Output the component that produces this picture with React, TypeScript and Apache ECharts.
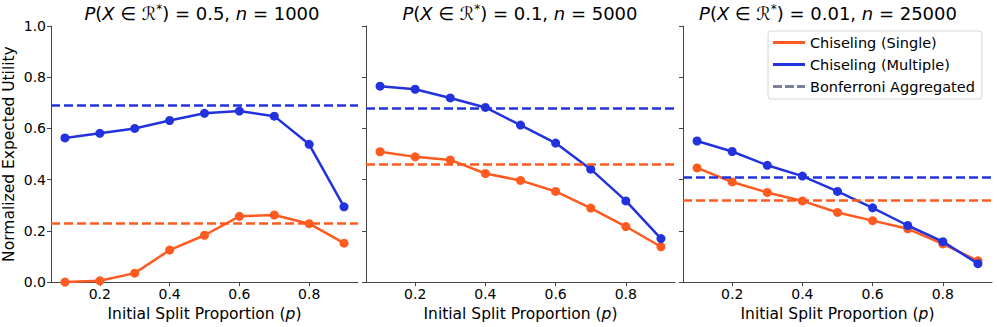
import React, { useEffect, useRef } from "react";
import * as echarts from "echarts";

const pValues = [0.1, 0.2, 0.3, 0.4, 0.5, 0.6, 0.7, 0.8, 0.9];
const xTicks = [0.2, 0.4, 0.6, 0.8];

const single1 = [0.0, 0.005, 0.035, 0.125, 0.183, 0.257, 0.262, 0.228, 0.152];
const multi1 = [0.563, 0.581, 0.6, 0.631, 0.659, 0.668, 0.648, 0.538, 0.294];
const single2 = [0.509, 0.489, 0.477, 0.424, 0.397, 0.354, 0.289, 0.217, 0.138];
const multi2 = [0.765, 0.753, 0.719, 0.682, 0.613, 0.543, 0.441, 0.317, 0.17];
const single3 = [0.446, 0.391, 0.35, 0.317, 0.272, 0.24, 0.208, 0.149, 0.083];
const multi3 = [0.551, 0.51, 0.456, 0.414, 0.354, 0.29, 0.221, 0.158, 0.072];

const bonfSingle = [0.228, 0.457, 0.322];
const bonfMulti = [0.693, 0.68, 0.409];

const probs = ["0.5", "0.1", "0.01"];
const sizes = ["1000", "5000", "25000"];

const seriesNames = ["Chiseling (Single)", "Chiseling (Multiple)", "Bonferroni Aggregated"];

const ORANGE = "#ff5a1f";
const BLUE = "#2233dd";
const GREY = "#7d829a";
const FONT = "DejaVu Sans";

const singles = [single1, single2, single3];
const multis = [multi1, multi2, multi3];

const grids = [
  { left: 49, width: 309, titleCenter: 202 },
  { left: 366, width: 309, titleCenter: 520 },
  { left: 683, width: 309, titleCenter: 828 },
];

export default function App() {
  const ref = useRef<HTMLDivElement>(null);
  useEffect(() => {
    if (!ref.current) return;
    const chart = echarts.init(ref.current, null, { renderer: "svg" });

    const titles = grids.map((g, i) => ({
      text:
        "{i|P}{n|(}{i|X}{n| ∈ ℛ}{s|*}{n|) = " + probs[i] + ", }{i|n}{n| = " + sizes[i] + "}",
      left: g.titleCenter,
      top: 3,
      padding: 0,
      textAlign: "center",
      textStyle: {
        fontFamily: FONT,
        fontSize: 18,
        color: "#000",
        fontWeight: "normal",
        rich: {
          i: { fontFamily: FONT, fontSize: 18, fontStyle: "italic", color: "#000" },
          n: { fontFamily: FONT, fontSize: 18, color: "#000" },
          s: { fontFamily: FONT, fontSize: 12, color: "#000", verticalAlign: "top", padding: [0, 0, 8, 0] },
        },
      },
    }));

    const series: any[] = [];
    for (let i = 0; i < 3; i++) {
      series.push({
        name: seriesNames[0],
        type: "line",
        xAxisIndex: i,
        yAxisIndex: i,
        data: pValues.map((p, k) => [p, singles[i][k]]),
        symbol: "circle",
        symbolSize: 9,
        color: ORANGE,
        lineStyle: { width: 2.5, color: ORANGE },
        itemStyle: { color: ORANGE },
        z: 3,
        markLine: {
          silent: true,
          symbol: ["none", "none"],
          label: { show: false },
          lineStyle: { type: [9, 4], width: 2.5, color: ORANGE },
          data: [{ yAxis: bonfSingle[i] }],
        },
      });
      series.push({
        name: seriesNames[1],
        type: "line",
        xAxisIndex: i,
        yAxisIndex: i,
        data: pValues.map((p, k) => [p, multis[i][k]]),
        symbol: "circle",
        symbolSize: 9,
        color: BLUE,
        lineStyle: { width: 2.5, color: BLUE },
        itemStyle: { color: BLUE },
        z: 4,
        markLine: {
          silent: true,
          symbol: ["none", "none"],
          label: { show: false },
          lineStyle: { type: [9, 4], width: 2.5, color: BLUE },
          data: [{ yAxis: bonfMulti[i] }],
        },
      });
    }
    series.push({
      name: seriesNames[2],
      type: "line",
      xAxisIndex: 2,
      yAxisIndex: 2,
      data: [],
      color: GREY,
      lineStyle: { type: [9, 4], width: 2.5, color: GREY },
    });

    const option: any = {
      animation: false,
      backgroundColor: "#fff",
      title: titles,
      grid: grids.map((g) => ({ left: g.left, width: g.width, top: 26, height: 261 })),
      legend: {
        data: [
          { name: seriesNames[0], icon: "rect" },
          { name: seriesNames[1], icon: "rect" },
          { name: seriesNames[2], icon: "path://M0,0h9v3h-9z M12,0h9v3h-9z M24,0h8v3h-8z" },
        ],
        orient: "vertical",
        left: 768,
        top: 31,
        itemWidth: 32,
        itemHeight: 3,
        itemGap: 7,
        itemStyle: { borderWidth: 0 },
        lineStyle: { width: 0 },
        textStyle: { fontFamily: FONT, fontSize: 14.5, color: "#000" },
        backgroundColor: "#fff",
        borderColor: "#d6d6d6",
        borderWidth: 1,
        borderRadius: 3,
        padding: [4, 7, 5, 5],
        itemTextGap: 15,
        selectedMode: false,
      },
      xAxis: grids.map((g, i) => ({
        type: "value",
        gridIndex: i,
        min: 0.06,
        max: 0.94,
        name: "Initial Split Proportion ({i|p})",
        nameLocation: "middle",
        nameGap: 20,
        nameTextStyle: {
          fontFamily: FONT,
          fontSize: 15.5,
          color: "#000",
          rich: {
            i: { fontFamily: FONT, fontSize: 15.5, fontStyle: "italic", color: "#000" },
          },
        },
        axisLine: { show: true, lineStyle: { color: "#444", width: 1 } },
        axisTick: { show: true, inside: false, length: 4, customValues: xTicks, lineStyle: { color: "#444" } },
        axisLabel: {
          customValues: xTicks,
          formatter: (v: number) => v.toFixed(1),
          fontFamily: FONT,
          fontSize: 14,
          color: "#000",
          margin: 5,
        },
        splitLine: { show: false },
      })),
      yAxis: grids.map((g, i) => ({
        type: "value",
        gridIndex: i,
        min: 0,
        max: 1,
        interval: 0.2,
        name: i === 0 ? "Normalized Expected Utility" : "",
        nameLocation: "middle",
        nameGap: 34,
        nameTextStyle: { fontFamily: FONT, fontSize: 15.5, color: "#000" },
        axisLine: { show: true, lineStyle: { color: "#444", width: 1 } },
        axisTick: { show: true, inside: false, length: 4, lineStyle: { color: "#444" } },
        axisLabel: {
          show: i === 0,
          formatter: (v: number) => v.toFixed(1),
          fontFamily: FONT,
          fontSize: 14,
          color: "#000",
          margin: 5,
        },
        splitLine: { show: false },
      })),
      series,
    };
    chart.setOption(option);
    return () => chart.dispose();
  }, []);
  return (
    <div
      ref={ref}
      style={{ position: "absolute", left: 0, top: 0, width: 997, height: 327 }}
    />
  );
}
